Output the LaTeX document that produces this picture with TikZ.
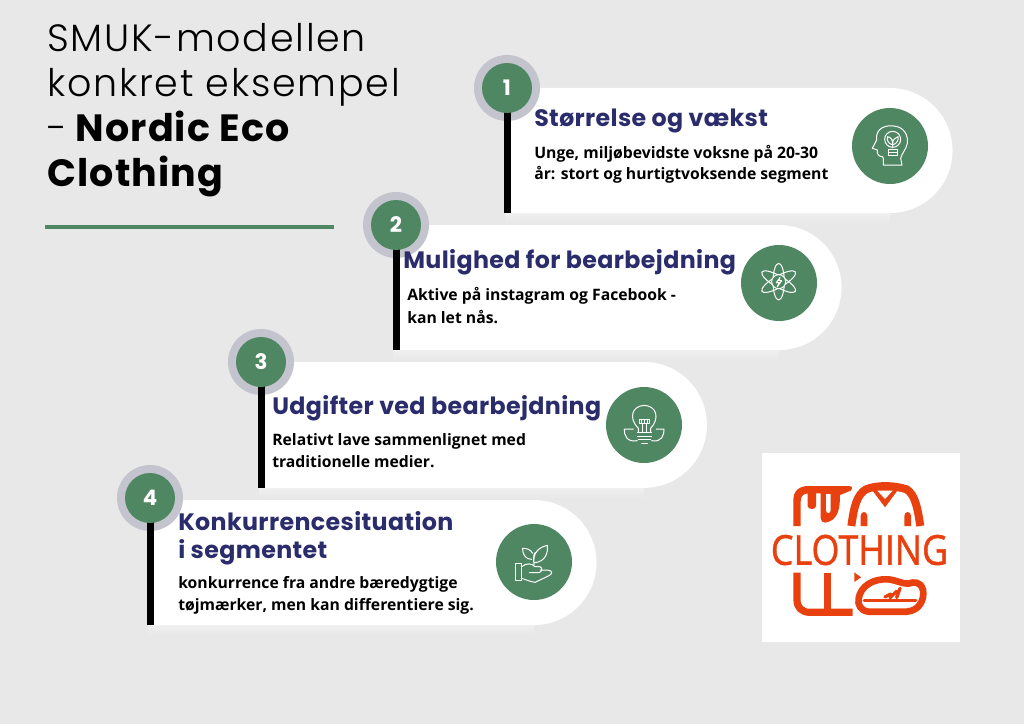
\documentclass[tikz,border=0pt]{standalone}
\usepackage{fontspec}
\setmainfont{Open Sans}
\newfontfamily\pop[LetterSpace=1.6]{Poppins}
\newfontfamily\popnum{Poppins}
\newfontfamily\popl[LetterSpace=4.6,UprightFont={* Light},BoldFont={Poppins Bold},BoldFeatures={LetterSpace=3}]{Poppins}
\newfontfamily\opn{Open Sans}
\newfontfamily\logof[FakeBold=1,FakeStretch=0.87]{Open Sans}
\definecolor{bgc}{HTML}{E8E8E8}
\definecolor{grn}{HTML}{4F8763}
\definecolor{ringc}{HTML}{C4C4CE}
\definecolor{navy}{HTML}{2A2C6B}
\definecolor{org}{HTML}{E8410F}
\begin{document}
\begin{tikzpicture}[x=0.75pt,y=-0.75pt,
  title/.style={anchor=base west,inner sep=0pt,font=\popl\fontsize{28.5}{30}\selectfont,text=black},
  head/.style={anchor=base west,inner sep=0pt,font=\pop\bfseries\fontsize{17.8}{20}\selectfont,text=navy},
  body/.style={anchor=base west,inner sep=0pt,font=\opn\bfseries\fontsize{11.8}{13}\selectfont,text=black},
  ringn/.style={circle,fill=ringc,minimum size=49.5pt,inner sep=0pt},
  numc/.style={circle,fill=grn,minimum size=37.5pt,inner sep=0pt,text=white,font=\popnum\bfseries\fontsize{16}{18}\selectfont},
  barl/.style={draw=black,line width=5.25pt},
  iconc/.style={circle,fill=grn,minimum size=57pt,inner sep=0pt},
  ic/.style={draw=white,line width=0.75pt,line cap=round,line join=round},
  org1/.style={draw=org,line cap=round,line join=round},
  cardf/.style={fill=white}]
\fill[bgc] (0,0) rectangle (1024,724);
\useasboundingbox (0,0) rectangle (1024,724);
% soft shadows below cards
\foreach \xa/\xb/\yy in {505/890/213,393/779/350,259/644/488,148/534/625}{
  \shade[top color=black!6,bottom color=bgc] (\xa,\yy) rectangle (\xb,\yy+10);}
% cards
\fill[cardf] (505,88) -- (890,88) arc[start angle=90,end angle=-90,radius=46.9pt] -- (505,213) -- cycle;
\fill[cardf] (393,225) -- (779,225) arc[start angle=90,end angle=-90,radius=46.9pt] -- (393,350) -- cycle;
\fill[cardf] (259,362) -- (644,362) arc[start angle=90,end angle=-90,radius=47.2pt] -- (259,488) -- cycle;
\fill[cardf] (148,500) -- (534,500) arc[start angle=90,end angle=-90,radius=46.9pt] -- (148,625) -- cycle;
% rings, bars, number circles
\coordinate (b1) at (507,213); \coordinate (b2) at (396,350); \coordinate (b3) at (262,488); \coordinate (b4) at (151,625);
\node[ringn] (r1) at (507,88) {};
\node[ringn] (r2) at (396,225) {};
\node[ringn] (r3) at (261,362) {};
\node[ringn] (r4) at (150,498) {};
\draw[barl] (r1.center) -- (r1.center |- b1);
\draw[barl] (r2.center) -- (r2.center |- b2);
\draw[barl] (r3.center) -- (r3.center |- b3);
\draw[barl] (r4.center) -- (r4.center |- b4);
\node[numc] (n1) at (r1) {1};
\node[numc] (n2) at (r2) {2};
\node[numc] (n3) at (r3) {3};
\node[numc] (n4) at (r4) {4};
% title
\node[title] (t1) at (47,52) {SMUK-modellen};
\node[title] (t2) at (47,97) {konkret eksempel};
\node[title] (t3) at (47,141) {-\hspace{0.18em}\textbf{Nordic Eco}};
\node[title] (t4) at (47,186) {\textbf{Clothing}};
\draw[grn,line width=2.6pt] (45,227) -- (334,227);
% card texts
\node[head] (h1) at (534,127) {Størrelse og vækst};
\node[body] (p1a) at (534,158) {Unge, miljøbevidste voksne på 20-30};
\node[body] (p1b) at (534,179) {år: stort og hurtigtvoksende segment};
\node[head] (h2) at (403,268) {Mulighed for bearbejdning};
\node[body] (p2a) at (407,300) {Aktive på instagram og Facebook -};
\node[body] (p2b) at (407,323) {kan let nås.};
\node[head] (h3) at (272,414) {Udgifter ved bearbejdning};
\node[body] (p3a) at (272,445) {Relativt lave sammenlignet med};
\node[body] (p3b) at (272,467) {traditionelle medier.};
\node[head] (h4a) at (178,530) {Konkurrencesituation};
\node[head] (h4b) at (178,558) {i segmentet};
\node[body] (p4a) at (178,588) {konkurrence fra andre bæredygtige};
\node[body] (p4b) at (178,610) {tøjmærker, men kan differentiere sig.};
% icon circles
\node[iconc] (i1) at (890,146) {};
\node[iconc] (i2) at (779,283) {};
\node[iconc] (i3) at (644,425) {};
\node[iconc] (i4) at (534,562) {};
% icon 1: head with bulb
\begin{scope}[shift={(820,90)},x=0.25pt,y=-0.25pt,ic]
\draw (190,205) .. controls (190,195) and (178,205) .. (172,190) -- (172,180) -- (157,175) -- (170,150)
  .. controls (165,110) and (205,105) .. (220,108) .. controls (255,110) and (265,140) .. (262,160) .. controls (258,180) and (245,190) .. (242,205) -- (246,225) -- (190,225) -- cycle;
\draw (218,148) circle[radius=24];
\draw (205,178) -- (232,178) -- (232,195) -- (205,195) -- cycle (205,186) -- (232,186);
\draw (218,170) -- (218,150) (218,165) .. controls (203,160) and (200,150) .. (203,140) .. controls (213,142) and (218,150) .. (218,160) .. controls (218,150) and (225,142) .. (234,140) .. controls (236,150) and (232,160) .. (218,165);
\end{scope}
% icon 2: atom
\begin{scope}[shift={(730,230)},x=0.25pt,y=-0.25pt,ic]
\draw (146,155) ellipse[x radius=17,y radius=55];
\draw[rotate around={60:(146,155)}] (146,155) ellipse[x radius=17,y radius=58];
\draw[rotate around={-60:(146,155)}] (146,155) ellipse[x radius=17,y radius=58];
\draw[fill=grn] (146,155) circle[radius=21];
\draw (150,142) -- (139,158) -- (147,158) -- (142,170) -- (155,152) -- (147,152) -- cycle;
\end{scope}
% icon 3: bulb over leaves
\begin{scope}[shift={(600,380)},x=0.25pt,y=-0.25pt,ic]
\draw (115,155) -- (115,145) .. controls (85,115) and (95,78) .. (133,76) .. controls (170,78) and (180,115) .. (152,145) -- (152,155);
\draw (118,118) rectangle (148,130) (125,118) -- (125,130) (133,118) -- (133,130) (141,118) -- (141,130);
\draw (127,130) -- (127,155) (140,130) -- (140,155);
\draw (112,157) -- (155,157) (112,168) -- (155,168) (115,178) -- (152,178) (125,190) -- (142,190);
\draw (112,182) .. controls (80,188) and (72,165) .. (73,147) -- (100,147);
\draw (155,182) .. controls (185,188) and (193,165) .. (192,147) -- (168,147);
\end{scope}
% icon 4: hand with plant
\begin{scope}[shift={(490,520)},x=0.25pt,y=-0.25pt,ic]
\draw (75,130) rectangle (95,182);
\draw (95,140) .. controls (110,128) and (125,130) .. (135,140) -- (150,140) .. controls (160,145) and (155,158) .. (145,158) -- (118,158);
\draw (150,150) -- (172,150) .. controls (190,152) and (188,162) .. (175,168) -- (135,187) .. controls (120,185) and (105,178) .. (95,175);
\draw (132,135) .. controls (130,115) and (130,105) .. (135,98) (132,130) .. controls (128,100) and (145,82) .. (172,76) .. controls (175,100) and (165,125) .. (134,128);
\draw (125,118) .. controls (110,118) and (98,108) .. (98,85) .. controls (110,85) and (122,88) .. (128,100);
\end{scope}
% logo
\fill[white] (762,453) rectangle (960,642);
\node[inner sep=0pt,text=org,font=\logof\fontsize{31}{33}\selectfont] (lg) at (859.5,550) {CLOTHING};
\begin{scope}[shift={(760,450)},x=0.25pt,y=-0.25pt]
% left garment
\fill[org] (100,228) -- (100,150) .. controls (100,122) and (118,108) .. (145,108) -- (265,108) .. controls (278,108) and (278,115) .. (272,122) -- (240,135) .. controls (240,175) and (235,212) .. (195,218) .. controls (187,218) and (182,212) .. (182,205) -- (182,130) -- (168,130) -- (168,168) .. controls (168,180) and (143,180) .. (143,168) -- (143,130) .. controls (128,132) and (122,140) .. (122,155) -- (122,228) -- cycle;
\fill[white] (198,132) -- (212,132) -- (212,180) .. controls (212,192) and (198,192) .. (198,180) -- cycle;
% shirt
\draw[org1,line width=6pt,line cap=butt] (274,228) .. controls (282,170) and (290,135) .. (318,118) .. controls (350,105) and (400,105) .. (440,118) .. controls (465,135) and (472,170) .. (481,228);
\fill[org] (335,118) -- (375,172) -- (415,118) -- cycle;
\fill[white] (352,122) -- (398,122) -- (375,147) -- cycle;
\fill[org] (302,228) -- (302,198) .. controls (302,182) and (322,182) .. (322,198) -- (322,228) -- cycle;
\fill[org] (433,228) -- (433,198) .. controls (433,182) and (453,182) .. (453,198) -- (453,228) -- cycle;
% trousers
\draw[org1,line width=5.4pt,line cap=butt] (111,368) -- (111,450) .. controls (111,472) and (125,487) .. (150,487) -- (278,487);
\draw[org1,line width=5.7pt,line cap=butt] (202,368) -- (202,480);
\fill[org] (283,367) -- (303,382) -- (283,396) -- cycle;
% shoe
\fill[white] (292,445) .. controls (300,405) and (340,382) .. (385,385) .. controls (410,388) and (425,398) .. (445,398) .. controls (460,392) and (485,390) .. (492,420) .. controls (497,450) and (480,485) .. (440,488) -- (325,488) .. controls (300,485) and (288,465) .. (292,445) -- cycle;
\draw[org1,line width=5pt] (296,445) .. controls (302,408) and (340,385) .. (385,388) .. controls (410,391) and (425,401) .. (445,401) .. controls (460,395) and (482,393) .. (489,420) .. controls (494,450) and (478,482) .. (440,485) -- (325,485) .. controls (302,482) and (292,465) .. (296,445) -- cycle;
\draw[org1,line width=2.2pt] (312,452) -- (468,452);
\draw[org1,line width=2.5pt] (375,441) -- (392,432);
\draw[org1,line width=2.5pt] (390,443) -- (410,424);
\draw[org1,line width=2.5pt] (410,443) -- (420,415);
\end{scope}
\end{tikzpicture}
\end{document}
